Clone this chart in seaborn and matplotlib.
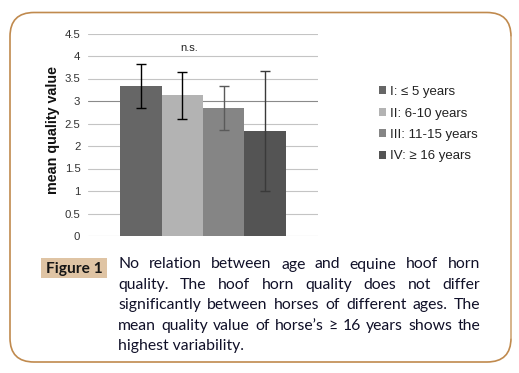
import matplotlib
matplotlib.use("Agg")
import matplotlib.pyplot as plt
from matplotlib.patches import FancyBboxPatch, Rectangle
import seaborn as sns
import pandas as pd

# ---- data ----
groups = ["I: \u2264 5 years", "II: 6-10 years", "III: 11-15 years", "IV: \u2265 16 years"]
means = [3.33, 3.13, 2.84, 2.33]
errors = [0.49, 0.52, 0.49, 1.34]
bar_colors = ["#666666", "#b3b3b3", "#858585", "#545454"]
err_colors = ["#000000", "#000000", "#5a5a5a", "#3a3a3a"]
yticks = [0, 0.5, 1, 1.5, 2, 2.5, 3, 3.5, 4, 4.5]
ylabel = "mean quality value"
annotation = "n.s."
fig_label = "Figure 1"
caption_lines = [
    "No relation between age and equine hoof horn",
    "quality. The hoof horn quality does not differ",
    "significantly between horses of different ages. The",
    "mean quality value of horse\u2019s \u2265 16 years shows the",
    "highest variability.",
]

W, H = 519, 373
sns.set_theme(style="white")
plt.rcParams["font.family"] = ["Liberation Sans", "DejaVu Sans"]

fig = plt.figure(figsize=(W / 100, H / 100), dpi=100)

# background axes in pixel coordinates
bg = fig.add_axes([0, 0, 1, 1])
bg.set_xlim(0, W)
bg.set_ylim(H, 0)
bg.axis("off")
bg.set_zorder(-1)

border = FancyBboxPatch((10, 12.5), 501, 349.5,
                        boxstyle="round,pad=0,rounding_size=24",
                        fc="white", ec="#c08a4e", lw=1.2)
bg.add_patch(border)
bg.plot([511, 511], [37, 338], color="#d8b68e", lw=1.4)

# chart axes
ax_left, ax_right = 88, 318
ax_top, ax_bot = 33.5, 236
ax = fig.add_axes([ax_left / W, 1 - ax_bot / H, (ax_right - ax_left) / W, (ax_bot - ax_top) / H])

df = pd.DataFrame({"x": ["all"] * 4, "group": groups, "mean": means})
sns.barplot(data=df, x="x", y="mean", hue="group", hue_order=groups,
            palette=bar_colors, width=0.72, errorbar=None, ax=ax,
            saturation=1, linewidth=0, zorder=3)

bars = [p for p in ax.patches if isinstance(p, Rectangle)][:4]
for p, m, e, c in zip(bars, means, errors, err_colors):
    xc = p.get_x() + p.get_width() / 2
    ax.errorbar(xc, m, yerr=e, fmt="none", ecolor=c, elinewidth=1.0,
                capsize=3.5, capthick=1.0, zorder=4)

ax.set_xlim(-0.5, 0.5)
ax.set_ylim(0, 4.5)
ax.set_yticks(yticks)
ax.set_yticklabels([f"{t:g}" for t in yticks])
ax.set_xticks([])
ax.set_xlabel("")
for s in ax.spines.values():
    s.set_visible(False)
for t in yticks:
    col = "#8a8a8a" if t == 3 else "#c4c4c4"
    ax.axhline(t, color=col, lw=0.8, zorder=1)
ax.tick_params(axis="y", length=0, pad=5.5, labelsize=8.2, labelcolor="#333333")
ax.set_ylabel(ylabel, fontsize=10.3, fontweight="bold", color="#111111")
ax.yaxis.set_label_coords(-0.12, 0.523)
ax.text(0.44, (236 - 48) / 202.5, annotation, transform=ax.transAxes,
        ha="center", va="center", fontsize=8, color="#222222")

leg = ax.legend(loc="upper left", bbox_to_anchor=(379 / W, 1 - 86 / H),
                bbox_transform=fig.transFigure, frameon=False, fontsize=9.5,
                handlelength=0.55, handleheight=0.55, handletextpad=0.3,
                labelspacing=0.72, borderpad=0, borderaxespad=0)
for t in leg.get_texts():
    t.set_color("#222222")

# caption
renderer = fig.canvas.get_renderer()
cap_family = ["Lato", "DejaVu Sans"]
probe = bg.text(0, 0, caption_lines[-1], fontsize=12, family=cap_family)
w12 = probe.get_window_extent(renderer).width
probe.remove()
cap_size = 12 * 124.6 / w12

x0, x1 = 118.3, 480
base0, step = 268.5, 20.4
txt_color = "#101028"
for i, line in enumerate(caption_lines):
    yb = base0 + i * step
    words = line.split(" ")
    if i == len(caption_lines) - 1:
        bg.text(x0, yb, line, fontsize=cap_size, family=cap_family,
                va="baseline", ha="left", color=txt_color)
        continue
    objs = [bg.text(0, yb, w, fontsize=cap_size, family=cap_family,
                    va="baseline", ha="left", color=txt_color) for w in words]
    widths = [o.get_window_extent(renderer).width for o in objs]
    gap = (x1 - x0 - sum(widths)) / (len(words) - 1)
    x = x0
    for o, w in zip(objs, widths):
        o.set_x(x)
        x += w + gap

bg.add_patch(Rectangle((41, 258.3), 66, 20, fc="#dfc4a4", ec="none"))
probe = bg.text(0, 0, fig_label, fontsize=12, family=cap_family, fontweight="bold")
wf = probe.get_window_extent(renderer).width
probe.remove()
bg.text(74, 273.3, fig_label, fontsize=12 * 56 / wf, family=cap_family,
        fontweight="bold", ha="center", va="baseline", color="#151515")

fig.savefig("out.png", dpi=100)
